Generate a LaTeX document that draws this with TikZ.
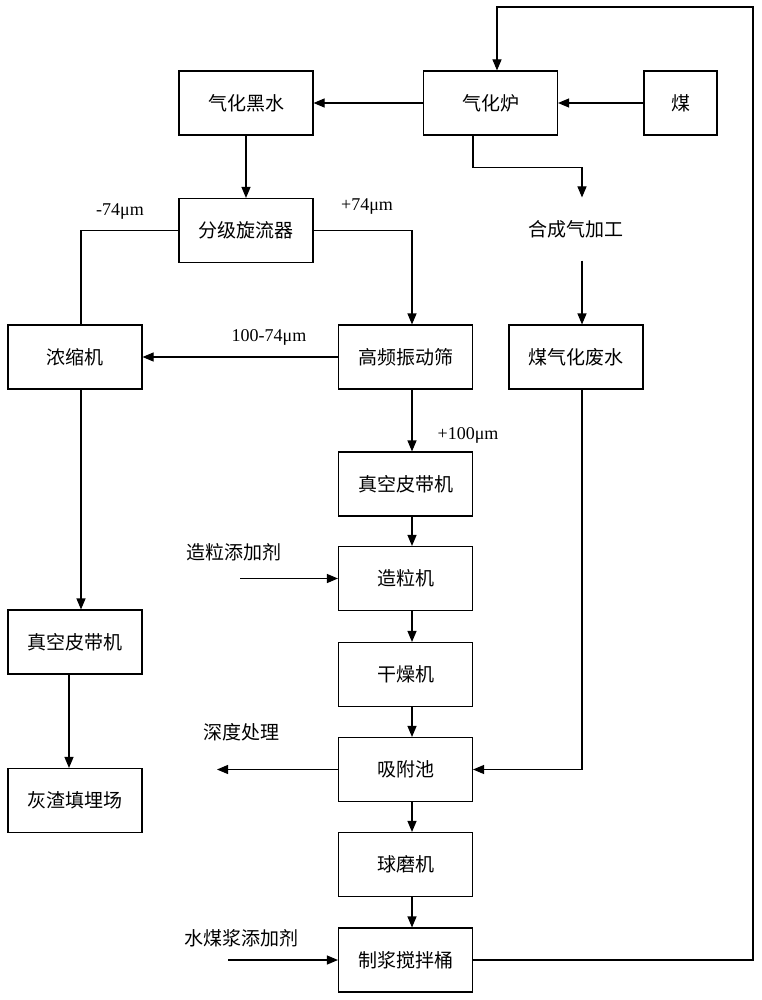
\documentclass[tikz,border=0pt]{standalone}
\usepackage{fontspec}
\setmainfont{Liberation Serif}
\newfontfamily\cjk{Noto Sans CJK SC}
\usetikzlibrary{arrows.meta}

\begin{document}
\begin{tikzpicture}[x=1pt, y=-1pt, line width=1.1pt,
  box/.style={draw, minimum width=134pt, minimum height=64pt, inner sep=0pt, font=\cjk\fontsize{19}{22}\selectfont},
  txt/.style={inner sep=0pt, font=\cjk\fontsize{19}{22}\selectfont},
  size/.style={inner sep=0pt, font=\fontsize{18}{20}\selectfont},
  flow/.style={-{Triangle[length=11pt, width=9pt]}}]
\useasboundingbox (0,0) rectangle (761,1000);
\node[box] (hsh) at (246,103) {气化黑水};
\node[box] (qhl) at (490.5,103) {气化炉};
\node[box, minimum width=73pt] (mei) at (680.5,103) {煤};
\node[box] (fjxlq) at (246,230.5) {分级旋流器};
\node[txt, minimum height=62pt] (hcq) at (576,229) {合成气加工};
\node[box] (nsj) at (75,357) {浓缩机};
\node[box] (gpzds) at (405.5,357) {高频振动筛};
\node[box] (mqhfs) at (576,357) {煤气化废水};
\node[box] (zkpd) at (405.5,484) {真空皮带机};
\node[box] (zlj) at (405.5,578.5) {造粒机};
\node[box] (zkpd2) at (75,642) {真空皮带机};
\node[box] (gzj) at (405.5,674.5) {干燥机};
\node[box] (xfc) at (405.5,769.5) {吸附池};
\node[box] (hztmc) at (75,800.5) {灰渣填埋场};
\node[box] (qmj) at (405.5,864.5) {球磨机};
\node[box] (zjjbt) at (405.5,960) {制浆搅拌桶};
\node[txt] (zltjj) at (234,552) {造粒添加剂};
\node[txt] (sdcl) at (241,732) {深度处理};
\node[txt] (smjtjj) at (241,938) {水煤浆添加剂};
\node[size] (s1) at (120,212) {-74μm};
\node[size] (s2) at (367,207) {+74μm};
\node[size] (s3) at (269,337) {100-74μm};
\node[size] (s4) at (468,435) {+100μm};
\coordinate (zlin) at (240,578.5);
\coordinate (sdout) at (217,769.5);
\coordinate (smin) at (228,960);
\coordinate (fb) at (753,7);
% top row
\draw[flow] (mei.west) -- (qhl.west -| mei.west) -- (qhl.east);
\draw[flow] (qhl.west) -- (hsh.east);
\draw[flow] (hsh.south) -- (fjxlq.north);
\draw[flow] ([xshift=-17.5pt]qhl.south) |- ++(0,32) -| ([xshift=6pt]hcq.north);
\draw[flow] ([xshift=6pt]hcq.south) -- ([xshift=6pt]mqhfs.north);
% classifier
\draw (fjxlq.west) -| ([xshift=6pt]nsj.north);
\draw[flow] (fjxlq.east) -| ([xshift=6.5pt]gpzds.north);
\draw[flow] (gpzds.west) -- (nsj.east);
\draw[flow] ([xshift=6pt]nsj.south) -- ([xshift=6pt]zkpd2.north);
\draw[flow] ([xshift=-6pt]zkpd2.south) -- ([xshift=-6pt]hztmc.north);
% main line
\draw[flow] ([xshift=6.5pt]gpzds.south) -- ([xshift=6.5pt]zkpd.north);
\draw[flow] ([xshift=6.5pt]zkpd.south) -- ([xshift=6.5pt]zlj.north);
\draw[flow] ([xshift=6.5pt]zlj.south) -- ([xshift=6.5pt]gzj.north);
\draw[flow] ([xshift=6.5pt]gzj.south) -- ([xshift=6.5pt]xfc.north);
\draw[flow] ([xshift=6.5pt]xfc.south) -- ([xshift=6.5pt]qmj.north);
\draw[flow] ([xshift=6.5pt]qmj.south) -- ([xshift=6.5pt]zjjbt.north);
\draw[flow] (zlin) -- (zlj.west);
\draw[flow] (xfc.west) -- (sdout);
\draw[flow] (smin) -- (zjjbt.west);
\draw[flow] ([xshift=6pt]mqhfs.south) |- (xfc.east);
% recycle to gasifier
\draw[flow] (zjjbt.east) -| (fb) -| ([xshift=6.5pt]qhl.north);
\end{tikzpicture}
\end{document}
